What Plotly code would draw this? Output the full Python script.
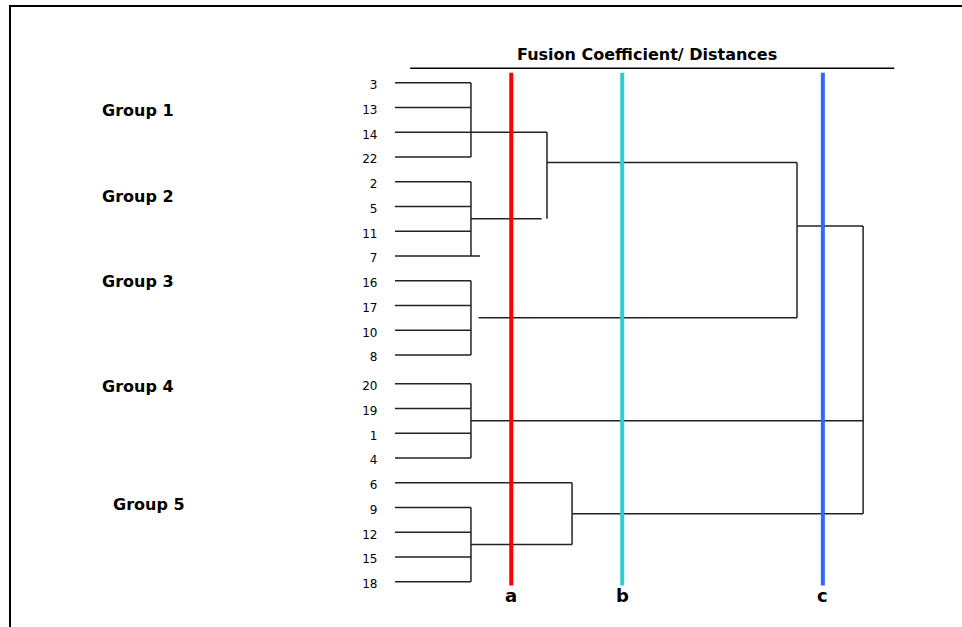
import plotly.graph_objects as go

# leaves of each group, top to bottom
groups = ["Group 1", "Group 2", "Group 3", "Group 4", "Group 5"]
group_leaves = [
    ["3", "13", "14", "22"],
    ["2", "5", "11", "7"],
    ["16", "17", "10", "8"],
    ["20", "19", "1", "4"],
    ["6", "9", "12", "15", "18"],
]

# fusion nodes: name, fusion coefficient, children
fusion_names = ["G1", "G2", "G3", "G4", "G5a", "G12", "G5", "G123", "root"]
fusion_levels = [1.0, 1.0, 1.0, 1.0, 1.0, 2.0, 2.33, 5.29, 6.16]
fusion_children = [
    group_leaves[0],
    group_leaves[1],
    group_leaves[2],
    group_leaves[3],
    ["9", "12", "15", "18"],
    ["G1", "G2"],
    ["6", "G5a"],
    ["G12", "G3"],
    ["G123", "G4", "G5"],
]
# where a node's branch leaves towards its parent (default: middle of children)
branch_pos = {"G1": 2.0, "G12": 3.22, "G123": 5.79}
# small irregularities of the drawn tree
branch_start = {"G3": 1.1}
branch_stop = {"G2": 1.93}
leaf_tail = {"7": 1.12}

# cut levels
cut_labels = ["a", "b", "c"]
cut_levels = [1.53, 2.99, 5.63]
cut_colors = ["#ff0000", "#33cccc", "#3366ff"]

title_text = "Fusion Coefficient/ Distances"

GROUP_GAP = 0.16  # extra space before Group 4

# leaf positions along the vertical axis
pos = {}
i = 0.0
for g, members in enumerate(group_leaves):
    if g == 3:
        i += GROUP_GAP
    for leaf in members:
        pos[leaf] = i
        i += 1
leaf_order = [l for members in group_leaves for l in members]
level = {l: 0.0 for l in leaf_order}

xs, ys = [], []


def seg(x0, y0, x1, y1):
    xs.extend([x0, x1, None])
    ys.extend([y0, y1, None])


for name, lvl, children in zip(fusion_names, fusion_levels, fusion_children):
    cy = [pos[c] for c in children]
    seg(lvl, min(cy), lvl, max(cy))
    for c in children:
        x0 = branch_start.get(c, level[c])
        x1 = branch_stop.get(c, max(lvl, leaf_tail.get(c, lvl)))
        seg(x0, pos[c], x1, pos[c])
    level[name] = lvl
    pos[name] = branch_pos.get(name, (min(cy) + max(cy)) / 2)

fig = go.Figure()

fig.add_trace(go.Scatter(
    x=xs, y=ys, mode="lines",
    line=dict(color="#222222", width=1.5),
    hoverinfo="skip",
))

last_leaf = pos[leaf_order[-1]]
for lab, lvl, col in zip(cut_labels, cut_levels, cut_colors):
    fig.add_trace(go.Scatter(
        x=[lvl, lvl], y=[-0.4, last_leaf + 0.15], mode="lines",
        line=dict(color=col, width=4), hoverinfo="skip",
    ))
    fig.add_annotation(
        x=lvl, y=last_leaf + 0.55, text="<b>%s</b>" % lab, showarrow=False,
        font=dict(family="DejaVu Sans", size=18, color="black"),
    )

# leaf numbers sit a touch below their lines
fig.add_trace(go.Scatter(
    x=[-0.23] * len(leaf_order), y=[pos[l] + 0.14 for l in leaf_order],
    mode="text", text=leaf_order, textposition="middle left",
    textfont=dict(family="DejaVu Sans", size=12, color="black"),
    hoverinfo="skip",
))

# group labels
group_label_y = [1.11, 4.6, 8.05, 12.28, 17.06]
group_label_x = [-3.38, -3.38, -3.38, -3.38, -3.24]
for g, gx, gy in zip(groups, group_label_x, group_label_y):
    fig.add_annotation(
        x=gx, y=gy, text="<b>%s</b>" % g, showarrow=False,
        font=dict(family="DejaVu Sans", size=16, color="black"),
    )

# heading with rule under it
fig.add_annotation(
    x=3.32, y=-1.12, text="<b>%s</b>" % title_text, showarrow=False,
    font=dict(family="DejaVu Sans", size=16, color="black"),
)
fig.add_shape(type="line", x0=0.2, x1=6.57, y0=-0.58, y1=-0.58,
              line=dict(color="black", width=1.5))

# frame (runs off the right and bottom edges)
fig.add_shape(type="rect", xref="paper", yref="paper",
              x0=10 / 962, x1=1.05, y0=1 - 6 / 627, y1=-0.05,
              line=dict(color="black", width=2))

fig.update_layout(
    width=962, height=627,
    margin=dict(l=0, r=0, t=0, b=0),
    paper_bgcolor="white", plot_bgcolor="white",
    showlegend=False,
    xaxis=dict(range=[-5.197, 7.461], visible=False, fixedrange=True),
    yaxis=dict(range=[21.99, -3.341], visible=False, fixedrange=True),
)

# page has a default 8px body margin; drop it so the figure sits at 0,0
fig.write_html("out.html", config={"displayModeBar": False},
               post_script="document.body.style.margin = '0';")
